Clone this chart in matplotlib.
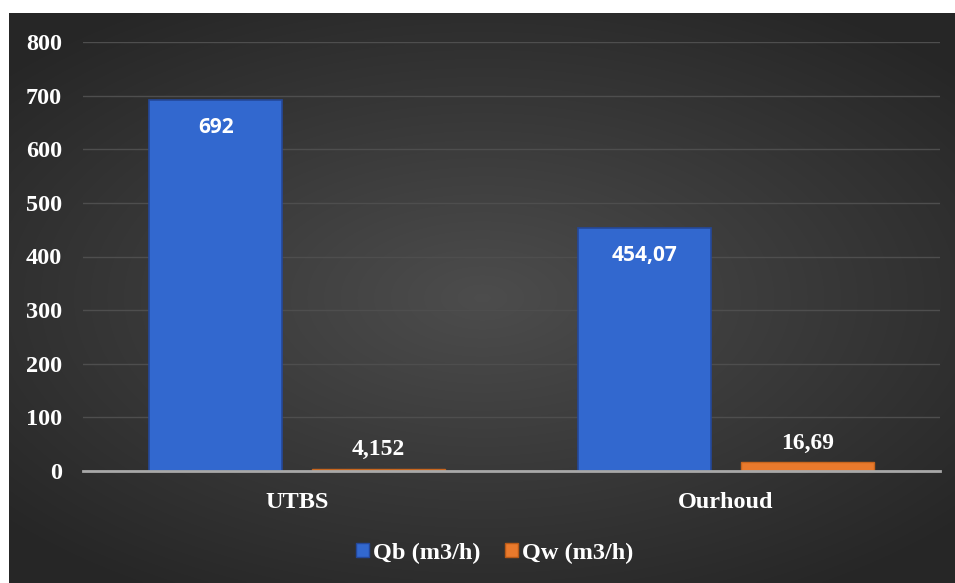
import matplotlib.pyplot as plt
import numpy as np
from matplotlib.patches import Patch

categories = ['UTBS', 'Ourhoud']
qb = [692, 454.07]
qw = [4.152, 16.69]
qb_labels = ['692', '454,07']
qw_labels = ['4,152', '16,69']
series_names = ['Qb (m3/h)', 'Qw (m3/h)']
yticks = [0, 100, 200, 300, 400, 500, 600, 700, 800]

blue = '#3268cf'
orange = '#ea7a2c'
serif = ['Liberation Serif', 'DejaVu Serif']

fig = plt.figure(figsize=(9.55, 5.83), dpi=100, facecolor='white')

# dark radial-gradient background, leaving a thin white strip top/left
bg = fig.add_axes([9 / 955, 0, 1 - 9 / 955, 1 - 13 / 583])
bg.set_axis_off()
gx, gy = np.meshgrid(np.linspace(-1, 1, 400), np.linspace(-1, 1, 250))
r = np.sqrt((gx / 1.0) ** 2 + (gy / 0.9) ** 2)
shade = 0.30 - 0.15 * np.clip(r / 1.35, 0, 1)
bg.imshow(np.dstack([shade, shade, shade]), aspect='auto', extent=[0, 1, 0, 1],
          interpolation='bilinear')

ax = fig.add_axes([83 / 955, 1 - 471 / 583, (940 - 83) / 955, (471 - 42) / 583])
ax.patch.set_alpha(0)

x = np.arange(len(categories))
w = 0.31
off = 0.19
b1 = ax.bar(x - off, qb, w, color=blue, edgecolor='#24489a', linewidth=1.2, zorder=3)
b2 = ax.bar(x + off, qw, w, color=orange, edgecolor='#c8661e', linewidth=1.0, zorder=3)

for rect, lab in zip(b1, qb_labels):
    ax.annotate(lab, (rect.get_x() + rect.get_width() / 2, rect.get_height()),
                xytext=(0, -20), textcoords='offset points', ha='center', va='center',
                color='white', fontsize=15, fontweight='bold', family='Open Sans', zorder=5)
for rect, lab in zip(b2, qw_labels):
    ax.annotate(lab, (rect.get_x() + rect.get_width() / 2, rect.get_height()),
                xytext=(0, 6), textcoords='offset points', ha='center', va='bottom',
                color='white', fontsize=17, fontweight='bold', family=serif, zorder=5)

ax.set_xlim(-0.5, 1.5)
ax.set_ylim(0, 800)
ax.set_yticks(yticks)
ax.set_xticks(x)
ax.set_xticklabels(categories)
for lbl in ax.get_xticklabels() + ax.get_yticklabels():
    lbl.set_family(serif)
    lbl.set_fontweight('bold')
    lbl.set_fontsize(17.5)
    lbl.set_color('white')
ax.tick_params(axis='both', length=0)
ax.tick_params(axis='y', pad=15)
ax.tick_params(axis='x', pad=15)
ax.grid(axis='y', color='#4e4e4e', linewidth=1.0, zorder=0)
for s in ['top', 'right', 'left']:
    ax.spines[s].set_visible(False)
ax.spines['bottom'].set_color('#a8a8a8')
ax.spines['bottom'].set_linewidth(2)
ax.spines['bottom'].set_zorder(4)

handles = [Patch(facecolor=blue, edgecolor='#24489a'),
           Patch(facecolor=orange, edgecolor='#b85a18')]
leg = fig.legend(handles, series_names, loc='center', bbox_to_anchor=(0.518, 1 - 553 / 583),
                 ncol=2, frameon=False, handlelength=0.55, handleheight=0.55,
                 handletextpad=0.15, columnspacing=1.0,
                 prop={'family': serif, 'weight': 'bold', 'size': 17.5})
for t in leg.get_texts():
    t.set_color('white')

fig.savefig('out.png', dpi=100, facecolor='white')
